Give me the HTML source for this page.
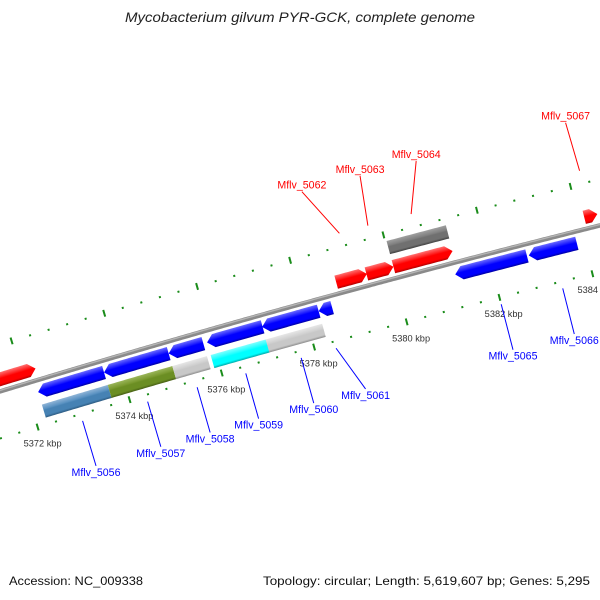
<!DOCTYPE html>
<html><head><meta charset="utf-8"><style>
html,body{margin:0;padding:0;background:#fff;}
svg{display:block;}
text{font-family:"Liberation Sans",sans-serif;}
</style></head><body>
<svg id="map" width="600" height="600" viewBox="0 0 600 600" xmlns="http://www.w3.org/2000/svg">
<rect x="0" y="0" width="600" height="600" fill="#fff"/>
<defs id="defs"></defs>
<text x="300" y="22" text-anchor="middle" font-style="italic" font-size="14" fill="#222" textLength="350" lengthAdjust="spacingAndGlyphs">Mycobacterium gilvum PYR-GCK, complete genome</text>
<g id="ticks"></g>
<g id="backbone"></g>
<g id="features"></g>
<g id="labels"></g>
<text x="9" y="585" font-size="12" fill="#111" textLength="134" lengthAdjust="spacingAndGlyphs">Accession: NC_009338</text>
<text x="590" y="585" text-anchor="end" font-size="12" fill="#111" textLength="327" lengthAdjust="spacingAndGlyphs">Topology: circular; Length: 5,619,607 bp; Genes: 5,295</text>
</svg>
<script>
// gene data (kbp)
var geneNames = ["", "Mflv_5056","Mflv_5057","Mflv_5058","Mflv_5059","Mflv_5060","Mflv_5061","Mflv_5062","Mflv_5063","Mflv_5064","Mflv_5065","Mflv_5066","Mflv_5067"];
var geneStarts = [5371.0, 5372.22, 5373.65, 5375.05, 5375.88, 5377.07, 5378.29, 5378.80, 5379.45, 5380.03, 5381.23, 5382.81, 5384.12];
var geneEnds   = [5372.31, 5373.65, 5375.05, 5375.80, 5377.08, 5378.29, 5378.58, 5379.46, 5380.03, 5381.30, 5382.77, 5383.84, 5384.40];
var geneStrands = [1, -1, -1, -1, -1, -1, -1, 1, 1, 1, -1, -1, 1];
var geneClass = ["", "steelblue", "olive", "lightgray", "cyan", "lightgray", "", "", "", "darkgray", "", "", ""];
var labelShift = [0, 0, 0, 0, 0, 0, 0.37, -0.52, 0.11, 0.38, 0, 0, -0.04];
var tickStart = 53712, tickEnd = 53852; // in 100 bp units

var CX = 3499, CY = 11870, R = 12000;
var A0 = -16.83, DEG_PER_KBP = 0.2299, REF = 5372;
var NS = "http://www.w3.org/2000/svg";
function theta(bp){ return (A0 + (bp - REF) * DEG_PER_KBP) * Math.PI / 180; }
function pt(bp, r){ var t = theta(bp); return [CX + r * Math.sin(t), CY - r * Math.cos(t)]; }
function mk(tag, attrs, parent){ var e = document.createElementNS(NS, tag); for (var k in attrs) e.setAttribute(k, attrs[k]); parent.appendChild(e); return e; }
function arcPts(a, b, r){ var out = []; var n = Math.max(2, Math.ceil(Math.abs(b - a) / 0.05)); for (var i = 0; i <= n; i++){ out.push(pt(a + (b - a) * i / n, r)); } return out; }
function fmt(p){ return p[0].toFixed(2) + "," + p[1].toFixed(2); }

var defs = document.getElementById("defs");
var palette = {
  red:["#ff7070","#ff1a1a","#ff0000","#b00000"],
  blue:["#6a6aff","#1a1aff","#0000ff","#0000a0"],
  steelblue:["#8fb4d6","#5a92c2","#4682b4","#2c5a80"],
  olive:["#9ab55a","#7a9a30","#6b8e23","#465e14"],
  lightgray:["#e6e6e6","#d0d0d0","#c8c8c8","#8c8c8c"],
  cyan:["#80ffff","#20ffff","#00ffff","#00a8a8"],
  darkgray:["#a0a0a0","#808080","#707070","#404040"]
};
var gid = 0;
function grad(bp, rOut, rIn, cols){
  var p1 = pt(bp, rOut), p2 = pt(bp, rIn); var id = "g" + (gid++);
  var g = mk("linearGradient", {id:id, gradientUnits:"userSpaceOnUse", x1:p1[0], y1:p1[1], x2:p2[0], y2:p2[1]}, defs);
  mk("stop", {offset:"0", "stop-color":cols[0]}, g);
  mk("stop", {offset:"0.35", "stop-color":cols[1]}, g);
  mk("stop", {offset:"0.45", "stop-color":cols[2]}, g);
  mk("stop", {offset:"0.82", "stop-color":cols[2]}, g);
  mk("stop", {offset:"1", "stop-color":cols[3]}, g);
  return "url(#" + id + ")";
}

// ticks
var tg = document.getElementById("ticks");
[R - 45, R + 45].forEach(function(rr, ringIdx){
  for (var k = tickStart; k <= tickEnd; k += 4){
    var bp = k / 10; var major = (k % 20 === 0);
    var h = major ? 3.5 : 1;
    var a = pt(bp, rr - h), b = pt(bp, rr + h);
    var ln = mk("line", {x1:a[0], y1:a[1], x2:b[0], y2:b[1], stroke:"#1a8c1a", "stroke-width":2}, tg);
    
    
    if (major && ringIdx === 0){
      var lp = pt(bp, rr - 17);
      var t = mk("text", {x:lp[0].toFixed(1), y:(lp[1] + 3).toFixed(1), "text-anchor":"middle", "font-size":"9", fill:"#333", textLength:"38", lengthAdjust:"spacingAndGlyphs"}, tg);
      t.textContent = (bp).toFixed(0) + " kbp";
      
      
    }
  }
});

// backbone
var bg = document.getElementById("backbone");
var bb = arcPts(5370, 5386.5, R);
var bl = mk("polyline", {points:bb.map(fmt).join(" "), fill:"none", stroke:"#8a8a8a", "stroke-width":4.5}, bg);


var bh = mk("polyline", {points:arcPts(5370, 5386.5, R + 1).map(fmt).join(" "), fill:"none", stroke:"#b4b4b4", "stroke-width":1.4}, bg);



// features
var fg = document.getElementById("features");
var HEAD = 0.146, HALF = 6.8;
function arrow(s, e, rc, strand, fill, name){
  var ro = rc + HALF, ri = rc - HALF, pts = [];
  var head = Math.min(HEAD, (e - s) * 0.9);
  if (strand < 0){
    pts.push(pt(s, rc));
    pts = pts.concat(arcPts(s + head, e, ro));
    pts = pts.concat(arcPts(e, s + head, ri));
  } else {
    pts = pts.concat(arcPts(s, e - head, ro));
    pts.push(pt(e, rc));
    pts = pts.concat(arcPts(e - head, s, ri));
  }
  var p = mk("polygon", {points:pts.map(fmt).join(" "), fill:fill}, fg);
  
  
}
function box(s, e, rc, fill, name){
  var pts = arcPts(s, e, rc + HALF).concat(arcPts(e, s, rc - HALF));
  var p = mk("polygon", {points:pts.map(fmt).join(" "), fill:fill}, fg);
  
  
}
var lg = document.getElementById("labels");
for (var i = 0; i < geneNames.length; i++){
  var s = geneStarts[i], e = geneEnds[i], st = geneStrands[i], mid = (s + e) / 2;
  var rc = R + st * 11.7;
  var cols = st > 0 ? palette.red : palette.blue;
  arrow(s, e, rc, st, grad(mid, rc + HALF, rc - HALF, cols), (geneNames[i] || "gene") + "-arrow");
  if (geneClass[i]){
    var rb = R + st * 31.5;
    box(s, e, rb, grad(mid, rb + HALF, rb - HALF, palette[geneClass[i]]), geneNames[i] + "-category-box");
  }
  if (geneNames[i]){
    var col = st > 0 ? "#ff0000" : "#0000ff";
    var p1 = st > 0 ? pt(mid, R + 58) : pt(mid, R - 52);
    var lb = mid + labelShift[i];
    var p2 = st > 0 ? pt(lb, R + 108) : pt(lb, R - 99);
    var ln = mk("line", {x1:p1[0], y1:p1[1], x2:p2[0], y2:p2[1], stroke:col, "stroke-width":1}, lg);
    
    
    var ty = st > 0 ? p2[1] - 3 : p2[1] + 10;
    var t = mk("text", {x:p2[0].toFixed(1), y:ty.toFixed(1), "text-anchor":"middle", "font-size":"11", fill:col, textLength:"49", lengthAdjust:"spacingAndGlyphs"}, lg);
    t.textContent = geneNames[i];
    
    
  }
}
</script>
</body></html>
